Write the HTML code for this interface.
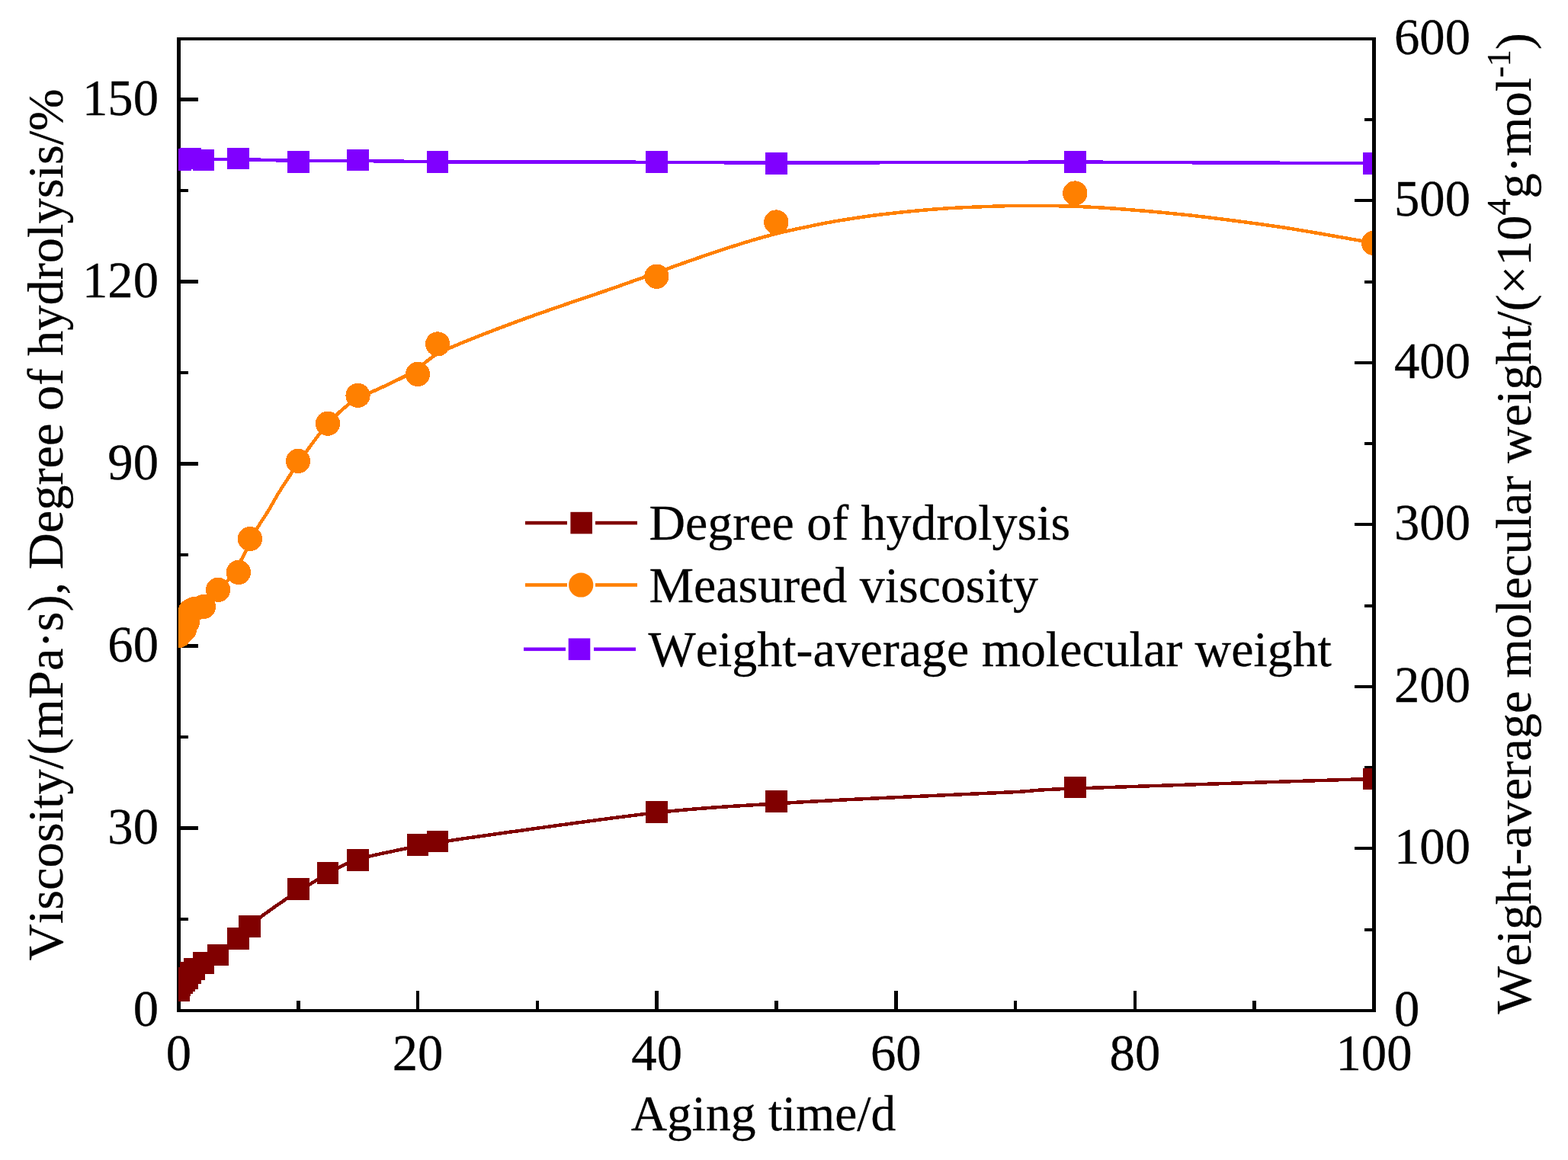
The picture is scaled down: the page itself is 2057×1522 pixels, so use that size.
<!DOCTYPE html>
<html lang="en"><head><meta charset="utf-8"><title>Aging time chart</title>
<style>
html,body{margin:0;padding:0;background:#fff;}
body{width:2057px;height:1522px;overflow:hidden;}
svg{display:block;}
text{font-family:"Liberation Serif","Times New Roman",serif;font-size:66.667px;fill:#000;stroke:#000;stroke-width:0.3px;font-kerning:none;font-variant-ligatures:none;}
.leg{font-size:65.9px;}
.xt{font-size:65.5px;}
.yt{font-size:66.43px;}
.sup{font-size:44px;}
</style></head><body>
<svg width="2057" height="1522" viewBox="0 0 2057 1522" role="img" aria-label="Viscosity, degree of hydrolysis and weight-average molecular weight versus aging time">
<rect x="0" y="0" width="2057" height="1522" fill="#ffffff"/>
<defs><clipPath id="plot"><rect x="234" y="40" width="1566" height="1290"/></clipPath></defs>
<g fill="#000" shape-rendering="crispEdges">
<rect x="232" y="49" width="5" height="1279"/>
<rect x="1800" y="49" width="5" height="1279"/>
<rect x="232" y="49" width="1573" height="4"/>
<rect x="232" y="1324" width="1573" height="4"/>
<rect x="237" y="1204.0" width="10" height="4"/>
<rect x="237" y="1084.0" width="23" height="5"/>
<rect x="237" y="965.0" width="10" height="4"/>
<rect x="237" y="845.0" width="23" height="5"/>
<rect x="237" y="726.0" width="10" height="4"/>
<rect x="237" y="606.0" width="23" height="5"/>
<rect x="237" y="487.0" width="10" height="4"/>
<rect x="237" y="367.0" width="23" height="5"/>
<rect x="237" y="248.0" width="10" height="4"/>
<rect x="237" y="128.0" width="23" height="5"/>
<rect x="1790" y="1218.0" width="10" height="4"/>
<rect x="1777" y="1111.0" width="23" height="4"/>
<rect x="1790" y="1005.0" width="10" height="4"/>
<rect x="1777" y="899.0" width="23" height="4"/>
<rect x="1790" y="793.0" width="10" height="4"/>
<rect x="1777" y="686.0" width="23" height="4"/>
<rect x="1790" y="580.0" width="10" height="4"/>
<rect x="1777" y="474.0" width="23" height="4"/>
<rect x="1790" y="368.0" width="10" height="4"/>
<rect x="1777" y="261.0" width="23" height="4"/>
<rect x="1790" y="155.0" width="10" height="4"/>
<rect x="389" y="1313" width="5" height="11"/>
<rect x="546" y="1300" width="4" height="24"/>
<rect x="703" y="1313" width="4" height="11"/>
<rect x="859" y="1300" width="5" height="24"/>
<rect x="1016" y="1313" width="5" height="11"/>
<rect x="1173" y="1300" width="5" height="24"/>
<rect x="1330" y="1313" width="4" height="11"/>
<rect x="1487" y="1300" width="4" height="24"/>
<rect x="1643" y="1313" width="5" height="11"/>
</g>
<g text-anchor="end">
<text x="208" y="1346.2">0</text>
<text x="208" y="1107.1">30</text>
<text x="208" y="868.1">60</text>
<text x="208" y="629.0">90</text>
<text x="208" y="389.9">120</text>
<text x="208" y="150.9">150</text>
</g>
<g text-anchor="start">
<text x="1829" y="1345.7">0</text>
<text x="1829" y="1133.2">100</text>
<text x="1829" y="920.7">200</text>
<text x="1829" y="708.2">300</text>
<text x="1829" y="495.7">400</text>
<text x="1829" y="283.2">500</text>
<text x="1829" y="70.7">600</text>
</g>
<g text-anchor="middle">
<text x="234.5" y="1404">0</text>
<text x="548.1" y="1404">20</text>
<text x="861.7" y="1404">40</text>
<text x="1175.3" y="1404">60</text>
<text x="1488.9" y="1404">80</text>
<text x="1802.5" y="1404">100</text>
</g>
<text class="xt" x="1001.5" y="1482.8" text-anchor="middle">Aging time/d</text>
<text class="yt" transform="translate(81.6,688.3) rotate(-90)" text-anchor="middle">Viscosity/(mPa·s), Degree of hydrolysis/%</text>
<text class="yt" transform="translate(2008,686.8) rotate(-90)" text-anchor="middle">Weight-average molecular weight/(×10<tspan class="sup" dy="-27.5">4</tspan><tspan dy="27.5">g·mol</tspan><tspan class="sup" dy="-27.5">-1</tspan><tspan dy="27.5">)</tspan></text>
<g clip-path="url(#plot)" shape-rendering="crispEdges">
<path d="M234.50,1299.50 C237.08,1295.67 244.58,1282.52 250.00,1276.50 C255.42,1270.48 261.00,1267.33 267.00,1263.40 C273.00,1259.47 278.42,1258.23 286.00,1252.90 C293.58,1247.57 305.58,1237.65 312.50,1231.40 C319.42,1225.15 322.92,1219.87 327.50,1215.40 C332.08,1210.93 331.72,1210.78 340.00,1204.60 C348.28,1198.42 368.62,1184.15 377.20,1178.30 C385.78,1172.45 382.70,1174.80 391.50,1169.50 C400.30,1164.20 416.98,1153.50 430.00,1146.50 C443.02,1139.50 449.93,1133.53 469.60,1127.50 C489.27,1121.47 530.62,1113.85 548.00,1110.30 C565.38,1106.75 561.90,1108.15 573.90,1106.20 C585.90,1104.25 572.03,1105.27 620.00,1098.60 C667.97,1091.93 795.30,1073.57 861.70,1066.20 C928.10,1058.83 968.68,1057.62 1018.40,1054.40 C1068.12,1051.18 1108.07,1049.43 1160.00,1046.90 C1211.93,1044.37 1288.25,1041.27 1330.00,1039.20 C1371.75,1037.13 1331.75,1037.40 1410.50,1034.50 C1489.25,1031.60 1737.17,1023.92 1802.50,1021.80" fill="none" stroke="#800000" stroke-width="4.5" stroke-linejoin="round"/>
<rect x="220.2" y="1285.2" width="28.6" height="28.6" fill="#800000"/>
<rect x="221.2" y="1278.2" width="28.6" height="28.6" fill="#800000"/>
<rect x="224.2" y="1275.7" width="28.6" height="28.6" fill="#800000"/>
<rect x="227.2" y="1272.2" width="28.6" height="28.6" fill="#800000"/>
<rect x="231.2" y="1269.1" width="28.6" height="28.6" fill="#800000"/>
<rect x="235.7" y="1262.2" width="28.6" height="28.6" fill="#800000"/>
<rect x="240.7" y="1257.1" width="28.6" height="28.6" fill="#800000"/>
<rect x="252.7" y="1249.1" width="28.6" height="28.6" fill="#800000"/>
<rect x="271.7" y="1238.6" width="28.6" height="28.6" fill="#800000"/>
<rect x="298.2" y="1217.1" width="28.6" height="28.6" fill="#800000"/>
<rect x="313.2" y="1201.1" width="28.6" height="28.6" fill="#800000"/>
<rect x="377.2" y="1152.0" width="28.6" height="28.6" fill="#800000"/>
<rect x="415.7" y="1131.0" width="28.6" height="28.6" fill="#800000"/>
<rect x="455.3" y="1113.9" width="28.6" height="28.6" fill="#800000"/>
<rect x="533.7" y="1093.9" width="28.6" height="28.6" fill="#800000"/>
<rect x="559.6" y="1089.5" width="28.6" height="28.6" fill="#800000"/>
<rect x="847.4" y="1051.2" width="28.6" height="28.6" fill="#800000"/>
<rect x="1004.1" y="1037.1" width="28.6" height="28.6" fill="#800000"/>
<rect x="1396.2" y="1018.5" width="28.6" height="28.6" fill="#800000"/>
<rect x="1788.2" y="1007.5" width="28.6" height="28.6" fill="#800000"/>
<path d="M234.50,842.00 C237.08,838.33 244.58,827.50 250.00,820.00 C255.42,812.50 261.00,804.33 267.00,797.00 C273.00,789.67 280.78,781.77 286.00,776.00 C291.22,770.23 293.30,769.17 298.30,762.40 C303.30,755.63 311.95,741.98 316.00,735.40 C320.05,728.82 318.98,730.02 322.60,722.90 C326.22,715.78 332.88,701.35 337.70,692.70 C342.52,684.05 346.78,678.78 351.50,671.00 C356.22,663.22 360.75,654.55 366.00,646.00 C371.25,637.45 378.75,626.20 383.00,619.70 C387.25,613.20 383.67,617.62 391.50,607.00 C399.33,596.38 417.00,570.33 430.00,556.00 C443.00,541.67 460.25,527.80 469.50,521.00 C478.75,514.20 475.10,519.82 485.50,515.20 C495.90,510.58 521.48,498.67 531.90,493.30 C542.32,487.93 541.58,487.48 548.00,483.00 C554.42,478.52 563.37,470.82 570.40,466.40 C577.43,461.98 578.80,461.43 590.20,456.50 C601.60,451.57 621.93,443.37 638.80,436.80 C655.67,430.23 673.88,423.45 691.40,417.10 C708.92,410.75 726.38,404.75 743.90,398.70 C761.42,392.65 779.42,386.72 796.50,380.80 C813.58,374.88 833.27,367.88 846.40,363.20 C859.53,358.52 861.72,357.52 875.30,352.70 C888.88,347.88 910.38,340.22 927.90,334.30 C945.42,328.38 965.08,321.88 980.40,317.20 C995.72,312.52 1006.65,309.48 1019.80,306.20 C1032.95,302.92 1045.93,300.27 1059.30,297.50 C1072.67,294.73 1083.42,292.33 1100.00,289.60 C1116.58,286.87 1135.88,283.75 1158.80,281.10 C1181.72,278.45 1211.25,275.50 1237.50,273.70 C1263.75,271.90 1296.60,270.92 1316.30,270.30 C1336.00,269.68 1339.95,269.92 1355.70,270.00 C1371.45,270.08 1391.12,270.05 1410.80,270.80 C1430.48,271.55 1450.17,272.70 1473.80,274.50 C1497.43,276.30 1528.23,279.07 1552.60,281.60 C1576.97,284.13 1596.77,286.67 1620.00,289.70 C1643.23,292.73 1664.33,295.42 1692.00,299.80 C1719.67,304.18 1767.67,312.80 1786.00,316.00 C1804.33,319.20 1799.33,318.50 1802.00,319.00" fill="none" stroke="#ff8000" stroke-width="4.5" stroke-linejoin="round"/>
<circle cx="234.5" cy="834.0" r="16.1" fill="#ff8000"/>
<circle cx="235.5" cy="831.5" r="16.1" fill="#ff8000"/>
<circle cx="238.5" cy="829.0" r="16.1" fill="#ff8000"/>
<circle cx="241.8" cy="826.5" r="16.1" fill="#ff8000"/>
<circle cx="246.2" cy="815.5" r="16.1" fill="#ff8000"/>
<circle cx="250.0" cy="801.5" r="16.1" fill="#ff8000"/>
<circle cx="255.0" cy="799.0" r="16.1" fill="#ff8000"/>
<circle cx="267.0" cy="796.0" r="16.1" fill="#ff8000"/>
<circle cx="286.1" cy="773.8" r="16.1" fill="#ff8000"/>
<circle cx="312.9" cy="750.9" r="16.1" fill="#ff8000"/>
<circle cx="327.9" cy="707.0" r="16.1" fill="#ff8000"/>
<circle cx="391.0" cy="604.9" r="16.1" fill="#ff8000"/>
<circle cx="430.0" cy="555.7" r="16.1" fill="#ff8000"/>
<circle cx="469.5" cy="518.9" r="16.1" fill="#ff8000"/>
<circle cx="548.0" cy="490.9" r="16.1" fill="#ff8000"/>
<circle cx="574.1" cy="451.4" r="16.1" fill="#ff8000"/>
<circle cx="861.4" cy="362.7" r="16.1" fill="#ff8000"/>
<circle cx="1018.3" cy="291.5" r="16.1" fill="#ff8000"/>
<circle cx="1410.3" cy="253.5" r="16.1" fill="#ff8000"/>
<circle cx="1802.0" cy="319.0" r="16.1" fill="#ff8000"/>
<path d="M234.50,208.50 L250.00,208.50 L267.00,209.00 L312.50,209.00 L391.40,211.00 L469.40,211.00 L573.90,212.30 L861.40,212.80 L1018.30,213.60 L1410.50,212.60 L1802.50,214.30" fill="none" stroke="#8000ff" stroke-width="4.5" stroke-linejoin="round"/>
<rect x="222.2" y="195.2" width="28.6" height="28.6" fill="#8000ff"/>
<rect x="235.7" y="193.7" width="28.6" height="28.6" fill="#8000ff"/>
<rect x="252.7" y="195.7" width="28.6" height="28.6" fill="#8000ff"/>
<rect x="298.2" y="193.7" width="28.6" height="28.6" fill="#8000ff"/>
<rect x="377.1" y="198.0" width="28.6" height="28.6" fill="#8000ff"/>
<rect x="455.1" y="195.5" width="28.6" height="28.6" fill="#8000ff"/>
<rect x="559.6" y="198.1" width="28.6" height="28.6" fill="#8000ff"/>
<rect x="847.1" y="198.0" width="28.6" height="28.6" fill="#8000ff"/>
<rect x="1004.0" y="200.0" width="28.6" height="28.6" fill="#8000ff"/>
<rect x="1396.2" y="197.9" width="28.6" height="28.6" fill="#8000ff"/>
<rect x="1788.2" y="200.2" width="28.6" height="28.6" fill="#8000ff"/>
</g>
<rect x="689.0" y="683.8" width="55.0" height="4.6" fill="#800000"/>
<rect x="781.0" y="683.8" width="55.0" height="4.6" fill="#800000"/>
<rect x="748.4" y="671.8" width="28.6" height="28.6" fill="#800000"/>
<rect x="689.0" y="765.2" width="55.0" height="4.6" fill="#ff8000"/>
<rect x="781.0" y="765.2" width="55.0" height="4.6" fill="#ff8000"/>
<circle cx="762.2" cy="767.5" r="16.1" fill="#ff8000"/>
<rect x="687.0" y="849.5" width="55.0" height="4.6" fill="#8000ff"/>
<rect x="779.0" y="849.5" width="55.0" height="4.6" fill="#8000ff"/>
<rect x="745.7" y="837.5" width="28.6" height="28.6" fill="#8000ff"/>
<text class="leg" x="851.5" y="708.4">Degree of hydrolysis</text>
<text class="leg" x="851.5" y="790.1">Measured viscosity</text>
<text class="leg" x="850.5" y="874.2">Weight-average molecular weight</text>
</svg>
</body></html>
